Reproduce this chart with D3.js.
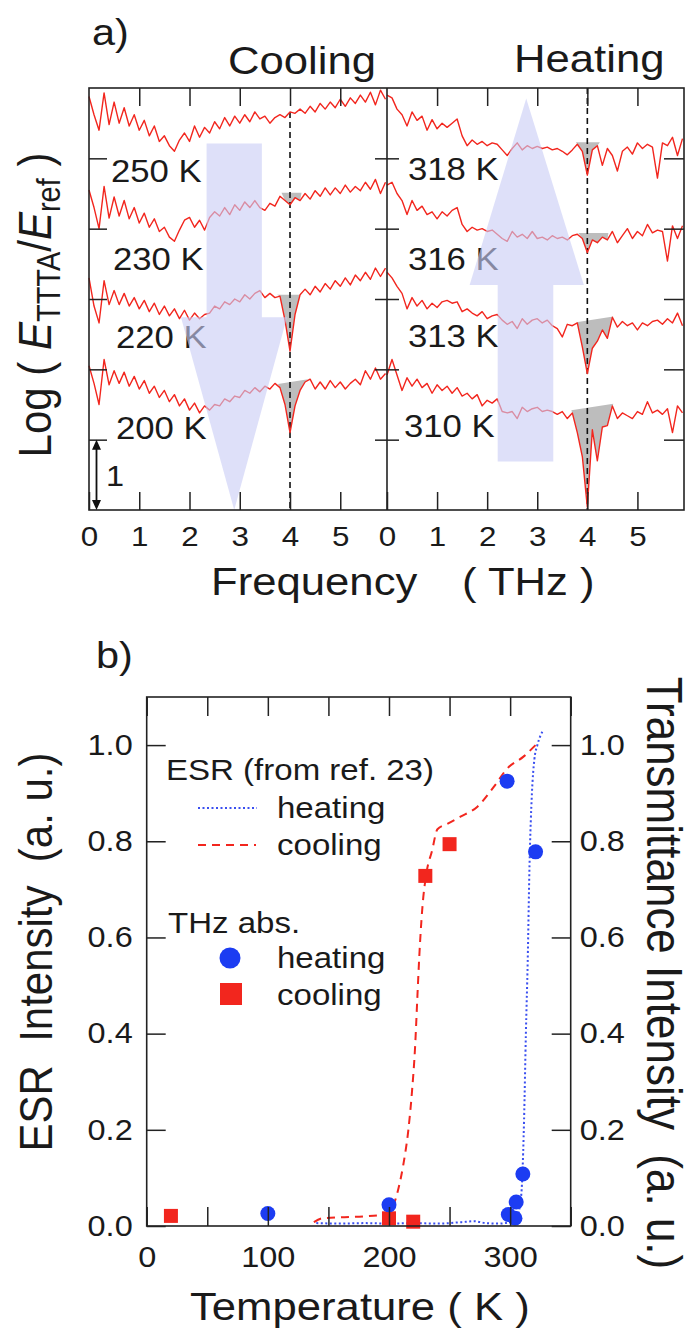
<!DOCTYPE html>
<html>
<head>
<meta charset="utf-8">
<script src="https://cdn.jsdelivr.net/npm/d3@7"></script>
<style>
  html, body { margin: 0; padding: 0; background: #fff; }
  svg { display: block; font-family: "Liberation Sans", Arial, Helvetica, sans-serif; }
  text { fill: #1a1a1a; }
</style>
</head>
<body>
<svg id="chart" width="691" height="1332"></svg>
<script>
// ---------- panel a : THz spectra, log(E_TTTA/E_ref), offset curves ----------
const freq = [
  0.0, 0.1, 0.2, 0.3, 0.4, 0.5, 0.6, 0.7, 0.8, 0.9,
  1.0, 1.1, 1.2, 1.3, 1.4, 1.5, 1.6, 1.7, 1.8, 1.9,
  2.0, 2.1, 2.2, 2.3, 2.4, 2.5, 2.6, 2.7, 2.8, 2.9,
  3.0, 3.1, 3.2, 3.3, 3.4, 3.5, 3.6, 3.7, 3.8, 3.9,
  4.0, 4.1, 4.2, 4.3, 4.4, 4.5, 4.6, 4.7, 4.8, 4.9,
  5.0, 5.1, 5.2, 5.3, 5.4, 5.5, 5.6, 5.7, 5.8, 5.9
];

const cool250 = [
  5.88, 5.62, 5.40, 5.93, 5.48, 5.80, 5.50, 5.72, 5.46, 5.62,
  5.40, 5.54, 5.32, 5.46, 5.24, 5.32, 5.18, 5.10, 5.26, 5.36,
  5.24, 5.46, 5.30, 5.44, 5.36, 5.52, 5.42, 5.58, 5.46, 5.60,
  5.50, 5.62, 5.52, 5.66, 5.56, 5.60, 5.50, 5.58, 5.62, 5.58,
  5.66, 5.64, 5.70, 5.64, 5.74, 5.66, 5.78, 5.70, 5.80, 5.72,
  5.84, 5.74, 5.86, 5.78, 5.90, 5.80, 5.94, 5.76, 5.97, 5.84
];
const cool230 = [
  4.55, 4.30, 4.00, 4.60, 4.15, 4.45, 4.18, 4.40, 4.14, 4.30,
  4.08, 4.22, 4.02, 4.14, 3.96, 4.02, 3.88, 3.82, 3.98, 4.12,
  4.16, 4.02, 4.12, 3.98, 4.16, 4.24, 4.18, 4.30, 4.20, 4.34,
  4.26, 4.38, 4.30, 4.40, 4.30, 4.26, 4.36, 4.32, 4.46, 4.40,
  4.34, 4.44, 4.40, 4.50, 4.42, 4.54, 4.46, 4.58, 4.48, 4.58,
  4.50, 4.62, 4.52, 4.60, 4.54, 4.66, 4.56, 4.70, 4.50, 4.66
];
const cool220 = [
  3.30, 2.90, 2.66, 3.26, 2.92, 3.12, 2.92, 3.08, 2.90, 3.02,
  2.86, 2.98, 2.82, 2.94, 2.78, 2.90, 2.76, 2.86, 2.72, 2.84,
  2.70, 2.80, 2.72, 2.78, 2.80, 2.90, 2.86, 2.96, 2.92, 3.00,
  2.96, 3.06, 3.00, 3.08, 3.12, 3.02, 3.08, 3.02, 3.04, 2.70,
  2.26, 2.78, 3.06, 3.14, 3.06, 3.18, 3.10, 3.22, 3.14, 3.26,
  3.18, 3.30, 3.20, 3.34, 3.26, 3.38, 3.28, 3.44, 3.32, 3.44
];
const cool200 = [
  2.05, 1.80, 1.50, 2.14, 1.78, 1.98, 1.80, 1.96, 1.76, 1.90,
  1.72, 1.84, 1.66, 1.76, 1.60, 1.70, 1.54, 1.64, 1.48, 1.58,
  1.42, 1.52, 1.38, 1.48, 1.42, 1.50, 1.48, 1.58, 1.54, 1.62,
  1.60, 1.70, 1.66, 1.74, 1.68, 1.76, 1.72, 1.80, 1.74, 1.50,
  1.10, 1.48, 1.70, 1.82, 1.86, 1.72, 1.82, 1.72, 1.84, 1.74,
  1.82, 1.72, 1.80, 1.86, 1.78, 1.98, 1.86, 2.02, 1.86, 1.94
];
const heat318 = [
  5.90, 5.86, 5.70, 5.62, 5.46, 5.66, 5.54, 5.60, 5.40, 5.55,
  5.42, 5.50, 5.44, 5.50, 5.56, 5.32, 5.18, 5.26, 5.20, 5.24,
  5.18, 5.22, 5.20, 5.12, 5.04, 5.14, 5.22, 5.12, 5.18, 5.14,
  5.17, 5.14, 5.16, 5.12, 5.14, 5.10, 5.05, 5.12, 5.20, 5.10,
  4.76, 5.12, 5.18, 4.90, 5.14, 5.04, 4.82, 5.10, 5.16, 5.06,
  5.22, 5.14, 5.20, 5.16, 4.72, 5.22, 5.18, 5.30, 5.04, 5.28
];
const heat316 = [
  4.62, 4.66, 4.50, 4.40, 4.20, 4.40, 4.26, 4.32, 4.20, 4.24,
  4.14, 4.24, 4.18, 4.26, 4.30, 4.06, 3.96, 4.02, 3.98, 4.00,
  3.96, 3.98, 3.92, 3.86, 3.82, 3.96, 3.88, 3.92, 3.86, 3.96,
  3.86, 3.88, 3.84, 3.90, 3.86, 3.88, 3.84, 3.90, 3.92, 3.86,
  3.66, 3.84, 3.80, 3.88, 3.84, 3.96, 3.80, 3.90, 4.00, 3.86,
  3.96, 3.90, 4.06, 3.94, 3.98, 3.96, 3.54, 4.04, 3.86, 4.04
];
const heat313 = [
  3.38, 3.30, 3.18, 3.08, 2.86, 3.02, 2.90, 2.98, 2.86, 2.94,
  2.88, 2.96, 2.98, 2.94, 2.96, 2.82, 2.86, 2.80, 2.76, 2.82,
  2.72, 2.76, 2.78, 2.70, 2.64, 2.68, 2.58, 2.72, 2.64, 2.70,
  2.72, 2.66, 2.70, 2.62, 2.58, 2.46, 2.64, 2.62, 2.66, 2.32,
  1.94, 2.30, 2.40, 2.56, 2.44, 2.74, 2.60, 2.68, 2.62, 2.66,
  2.56, 2.66, 2.62, 2.68, 2.70, 2.64, 2.72, 2.66, 2.80, 2.62
];
const heat310 = [
  1.92, 2.14, 1.92, 1.70, 1.88, 1.76, 1.86, 1.74, 1.80, 1.66,
  1.78, 1.70, 1.76, 1.66, 1.74, 1.62, 1.66, 1.58, 1.64, 1.48,
  1.56, 1.52, 1.58, 1.40, 1.38, 1.40, 1.30, 1.46, 1.40, 1.44,
  1.46, 1.40, 1.42, 1.40, 1.36, 1.40, 1.30, 1.38, 1.10, 0.76,
  0.04, 1.14, 0.70, 1.18, 1.20, 1.48, 1.30, 1.38, 1.34, 1.30,
  1.40, 1.36, 1.54, 1.38, 1.42, 1.36, 1.44, 1.10, 1.48, 1.38
];

const coolLabels = ["250 K", "230 K", "220 K", "200 K"];
const heatLabels = ["318 K", "316 K", "313 K", "310 K"];
// absorption band around 4 THz: [start freq, base level, end freq, base level]
const coolBands = [null, [3.83, 4.51, 4.23, 4.51], [3.74, 3.06, 4.25, 3.06], [3.76, 1.79, 4.36, 1.86]];
const heatBands = [[3.77, 5.23, 4.25, 5.23], [3.82, 3.94, 4.42, 3.94], [3.78, 2.67, 4.52, 2.75], [3.68, 1.42, 4.52, 1.51]];
const freqTicks = [0, 1, 2, 3, 4, 5];
const logTicks = [1, 2, 3, 4, 5];

// ---------- panel b : intensity vs temperature ----------
const esrHeatT = [140, 160, 180, 200, 220, 240, 260, 270, 280, 290, 300, 305, 308, 310, 311.5, 313, 314.5, 316, 318, 320, 322.5, 327];
const esrHeatV = [0.006, 0.005, 0.006, 0.005, 0.006, 0.005, 0.008, 0.010, 0.006, 0.005, 0.008, 0.015, 0.04, 0.10, 0.22, 0.40, 0.55, 0.75, 0.90, 0.97, 1.0, 1.03];
const esrCoolT = [138, 145, 160, 180, 196, 203, 208, 212, 216, 219, 221.5, 223.5, 225, 227.5, 231, 235.5, 240, 248, 259, 273, 286.5, 297.5, 311, 321];
const esrCoolV = [0.008, 0.016, 0.018, 0.020, 0.024, 0.04, 0.08, 0.13, 0.20, 0.28, 0.37, 0.48, 0.56, 0.66, 0.735, 0.78, 0.825, 0.836, 0.851, 0.872, 0.913, 0.951, 0.976, 1.0];
const thzHeatT = [100, 200, 297.5, 321, 310.5, 305, 298.5, 304];
const thzHeatV = [0.026, 0.044, 0.925, 0.778, 0.108, 0.050, 0.024, 0.016];
const thzCoolT = [20, 200, 220, 230, 250];
const thzCoolV = [0.021, 0.016, 0.009, 0.728, 0.794];
const tempTicks = [0, 50, 100, 150, 200, 250, 300, 350];
const intTicks = [0, 0.2, 0.4, 0.6, 0.8, 1.0];

const RED = "#f2261e", BLUE = "#1c3cf2", INK = "#222";
const SX = 1.12;   // the source figure is a little stretched sideways

const svg = d3.select("#chart");

function label(x, y, str, size, rot = 0, anchor = "start") {
  return svg.append("text")
    .attr("transform", `translate(${x},${y}) scale(${SX},1) rotate(${rot})`)
    .attr("font-size", size)
    .attr("text-anchor", anchor)
    .style("white-space", "pre")
    .text(str);
}

function styleAxis(g, size) {
  g.attr("font-size", size).attr("font-family", null).attr("color", INK);
  g.select(".domain").remove();
  g.selectAll(".tick line").attr("stroke-width", 1.5);
  g.selectAll(".tick text").each(function () {
    const t = d3.select(this);
    const x = +t.attr("x") || 0;
    t.attr("x", null).attr("transform", `translate(${x},0) scale(${SX},1)`);
  });
  return g;
}

// ================= panel a =================
const xA1 = d3.scaleLinear().domain([0, 5.93]).range([89, 387]);
const xA2 = d3.scaleLinear().domain([0, 5.93]).range([387, 684]);
const yA = d3.scaleLinear().domain([0, 6]).range([510, 88]);

const coolCurves = [cool250, cool230, cool220, cool200];
const heatCurves = [heat318, heat316, heat313, heat310];

function drawPanel(x, curves, bands, dashTop) {
  const g = svg.append("g");
  // gray absorption areas
  bands.forEach((b, i) => {
    if (!b) return;
    const pts = [[b[0], b[1]], [b[2], b[3]]];
    for (let k = freq.length - 1; k >= 0; k--) {
      if (freq[k] > b[0] && freq[k] < b[2]) pts.push([freq[k], curves[i][k]]);
    }
    g.append("path")
      .attr("d", "M" + pts.map(p => [x(p[0]), yA(p[1])].join(",")).join("L") + "Z")
      .attr("fill", "#bdbdbd");
  });
  // dashed marker at 4 THz
  g.append("line")
    .attr("x1", x(4)).attr("x2", x(4))
    .attr("y1", yA(dashTop)).attr("y2", yA(0))
    .attr("stroke", "#111").attr("stroke-width", 1.6)
    .attr("stroke-dasharray", "6,4");
  const line = d3.line().x((d, k) => x(freq[k])).y(d => yA(d));
  curves.forEach(c => {
    g.append("path").attr("d", line(c))
      .attr("fill", "none").attr("stroke", RED)
      .attr("stroke-width", 1.4).attr("stroke-linejoin", "round");
  });
}
drawPanel(xA1, coolCurves, coolBands, 5.66);
drawPanel(xA2, heatCurves, heatBands, 6);

// temperature labels
const coolLabelPos = [[111, 182], [113, 270], [116, 348], [116, 439]];
const heatLabelPos = [[408, 180], [408, 270], [408, 347], [404, 437]];
coolLabels.forEach((t, i) => label(coolLabelPos[i][0], coolLabelPos[i][1], t, 31));
heatLabels.forEach((t, i) => label(heatLabelPos[i][0], heatLabelPos[i][1], t, 31));

// translucent cooling / heating arrows
const arrowFill = "#c9cdf5";
const coolArrow = [[2.34, 5.21], [3.44, 5.21], [3.44, 2.74], [3.94, 2.74], [2.89, 0], [1.83, 2.74], [2.34, 2.74]];
const heatArrow = [[2.78, 5.85], [3.93, 3.2], [3.32, 3.2], [3.32, 0.69], [2.21, 0.69], [2.21, 3.2], [1.65, 3.2]];
svg.append("path")
  .attr("d", "M" + coolArrow.map(p => [xA1(p[0]), yA(p[1])].join(",")).join("L") + "Z")
  .attr("fill", arrowFill).attr("fill-opacity", 0.62);
svg.append("path")
  .attr("d", "M" + heatArrow.map(p => [xA2(p[0]), yA(p[1])].join(",")).join("L") + "Z")
  .attr("fill", arrowFill).attr("fill-opacity", 0.62);

// frame
svg.append("rect").attr("x", 89).attr("y", 88).attr("width", 684 - 89).attr("height", 510 - 88)
  .attr("fill", "none").attr("stroke", INK).attr("stroke-width", 1.6);
svg.append("line").attr("x1", 387).attr("x2", 387).attr("y1", 88).attr("y2", 510)
  .attr("stroke", INK).attr("stroke-width", 1.6);

// axes
[xA1, xA2].forEach(x => {
  styleAxis(svg.append("g").attr("transform", "translate(0,510)")
    .call(d3.axisBottom(x).tickValues(freqTicks).tickSizeInner(-18).tickSizeOuter(0)
      .tickPadding(16).tickFormat(d3.format("d"))), 28);
  styleAxis(svg.append("g").attr("transform", "translate(0,88)")
    .call(d3.axisTop(x).tickValues(freqTicks.slice(1)).tickSizeInner(-18).tickSizeOuter(0)
      .tickFormat("")), 28);
});
styleAxis(svg.append("g").attr("transform", "translate(89,0)")
  .call(d3.axisLeft(yA).tickValues(logTicks).tickSizeInner(-18).tickSizeOuter(0).tickFormat("")), 28);
styleAxis(svg.append("g").attr("transform", "translate(387,0)")
  .call(d3.axisRight(yA).tickValues(logTicks).tickSizeInner(-12).tickSizeOuter(0).tickFormat("")), 28);
styleAxis(svg.append("g").attr("transform", "translate(387,0)")
  .call(d3.axisLeft(yA).tickValues(logTicks).tickSizeInner(-12).tickSizeOuter(0).tickFormat("")), 28);
styleAxis(svg.append("g").attr("transform", "translate(684,0)")
  .call(d3.axisRight(yA).tickValues(logTicks).tickSizeInner(-20).tickSizeOuter(0).tickFormat("")), 28);

// scale bar of one decade
const barX = 96.5;
svg.append("line").attr("x1", barX).attr("x2", barX)
  .attr("y1", yA(1) + 8).attr("y2", yA(0) - 8)
  .attr("stroke", "#111").attr("stroke-width", 1.8);
svg.append("path").attr("d", `M${barX},${yA(1)}l-4.5,10h9z M${barX},${yA(0)}l-4.5,-10h9z`).attr("fill", "#111");
label(106, 486, "1", 29);

// titles
label(92, 45, "a)", 37);
label(228, 74, "Cooling", 39);
label(514, 72, "Heating", 39);
label(211, 595, "Frequency", 39);
label(462, 595, "( THz )", 39);

const yt = svg.append("text")
  .attr("transform", `translate(51,305) scale(${SX},1) rotate(-90)`)
  .attr("font-size", 42).attr("text-anchor", "middle")
  .style("white-space", "pre");
yt.append("tspan").text("Log ( ");
yt.append("tspan").attr("font-style", "italic").text("E");
yt.append("tspan").attr("font-size", 29).attr("dy", 8).text("TTTA");
yt.append("tspan").attr("dy", -8).text("/");
yt.append("tspan").attr("font-style", "italic").text("E");
yt.append("tspan").attr("font-size", 29).attr("dy", 8).text("ref");
yt.append("tspan").attr("dy", -8).text(" )");

// ================= panel b =================
const xB = d3.scaleLinear().domain([0, 350]).range([146.7, 570.7]);
const yB = d3.scaleLinear().domain([0, 1.1]).range([1226, 697]);

const lineB = d3.line().curve(d3.curveMonotoneX);
svg.append("path")
  .attr("d", lineB(esrCoolT.map((t, i) => [xB(t), yB(esrCoolV[i])])))
  .attr("fill", "none").attr("stroke", RED).attr("stroke-width", 2)
  .attr("stroke-dasharray", "8,6");
svg.append("path")
  .attr("d", lineB(esrHeatT.map((t, i) => [xB(t), yB(esrHeatV[i])])))
  .attr("fill", "none").attr("stroke", "#3a4ff0").attr("stroke-width", 2)
  .attr("stroke-dasharray", "2,2.5");

svg.append("g").selectAll("rect")
  .data(thzCoolT.map((t, i) => [t, thzCoolV[i]]))
  .join("rect")
  .attr("x", d => xB(d[0]) - 7).attr("y", d => yB(d[1]) - 7)
  .attr("width", 14).attr("height", 14).attr("fill", RED);
svg.append("g").selectAll("circle")
  .data(thzHeatT.map((t, i) => [t, thzHeatV[i]]))
  .join("circle")
  .attr("cx", d => xB(d[0])).attr("cy", d => yB(d[1]))
  .attr("r", 7.5).attr("fill", BLUE);

svg.append("rect").attr("x", 146.7).attr("y", 697).attr("width", 424).attr("height", 529)
  .attr("fill", "none").attr("stroke", INK).attr("stroke-width", 1.6);

styleAxis(svg.append("g").attr("transform", "translate(0,1226)")
  .call(d3.axisBottom(xB).tickValues(tempTicks).tickSizeInner(-19).tickSizeOuter(0)
    .tickPadding(20).tickFormat(d => d % 100 === 0 ? d : "")), 29);
styleAxis(svg.append("g").attr("transform", "translate(0,697)")
  .call(d3.axisTop(xB).tickValues(tempTicks).tickSizeInner(-19).tickSizeOuter(0).tickFormat("")), 29);
styleAxis(svg.append("g").attr("transform", "translate(146.7,0)")
  .call(d3.axisLeft(yB).tickValues(intTicks).tickSizeInner(-19).tickSizeOuter(0)
    .tickPadding(14).tickFormat(d3.format(".1f"))), 29);
styleAxis(svg.append("g").attr("transform", "translate(570.7,0)")
  .call(d3.axisRight(yB).tickValues(intTicks).tickSizeInner(-19).tickSizeOuter(0)
    .tickPadding(9).tickFormat(d3.format(".1f"))), 29);

// legend
label(166, 780, "ESR (from ref. 23)", 29.5);
svg.append("line").attr("x1", 198).attr("x2", 257).attr("y1", 808).attr("y2", 808)
  .attr("stroke", "#3a4ff0").attr("stroke-width", 2).attr("stroke-dasharray", "2,2.5");
label(277, 818, "heating", 29.5);
svg.append("line").attr("x1", 198).attr("x2", 256).attr("y1", 845).attr("y2", 845)
  .attr("stroke", RED).attr("stroke-width", 2).attr("stroke-dasharray", "8,6");
label(277, 855, "cooling", 29.5);
label(168, 933, "THz abs.", 29.5);
svg.append("circle").attr("cx", 230).attr("cy", 958).attr("r", 10.5).attr("fill", BLUE);
label(277, 968, "heating", 29.5);
svg.append("rect").attr("x", 220).attr("y", 983).attr("width", 22).attr("height", 22).attr("fill", RED);
label(277, 1005, "cooling", 29.5);

label(96, 668, "b)", 37);
label(190, 1320, "Temperature ( K )", 39);
label(52, 952, "ESR  Intensity  (a. u.)", 42, -90, "middle");
label(647, 973, "Transmittance Intensity  (a. u.)", 44, 90, "middle");
</script>
</body>
</html>
